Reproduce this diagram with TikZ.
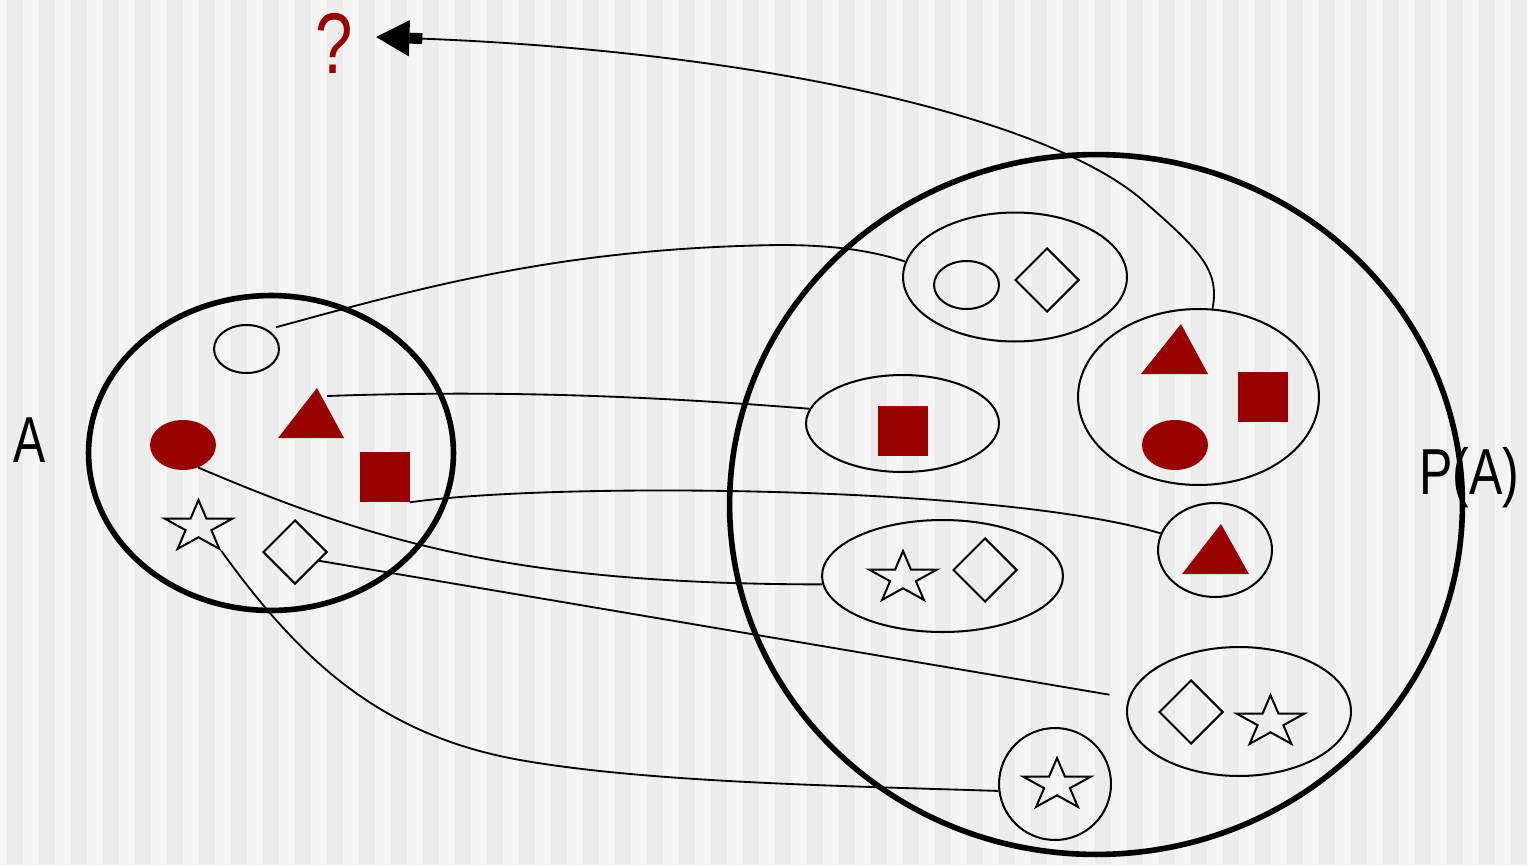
\documentclass[tikz,border=0pt]{standalone}
\usepackage{fontspec}
\setmainfont{Liberation Sans}
\usepackage{graphicx}
\usetikzlibrary{shapes.geometric,arrows.meta}

\definecolor{darkred}{RGB}{153,0,0}
\definecolor{stripelight}{RGB}{244,244,244}
\definecolor{stripedark}{RGB}{236,236,236}

\begin{document}
\begin{tikzpicture}[x=0.02cm,y=-0.02cm,
  bigset/.style={ellipse, draw, line width=3.2pt, inner sep=0pt},
  subset/.style={ellipse, draw, line width=1.15pt, inner sep=0pt},
  ring/.style={ellipse, draw, line width=1.15pt, inner sep=0pt, minimum width=1.3cm, minimum height=0.96cm},
  blob/.style={ellipse, fill=darkred, inner sep=0pt, minimum width=1.32cm, minimum height=1cm},
  redbox/.style={rectangle, fill=darkred, inner sep=0pt, minimum size=1cm},
  gem/.style={diamond, draw, line width=1.15pt, inner sep=0pt, minimum size=1.28cm},
  starel/.style={star, star points=5, star point ratio=2.618, draw, line width=1.15pt, inner sep=0pt, minimum size=1.42cm, yscale=0.76},
  link/.style={line width=1.05pt},
  lbl/.style={inner sep=0pt, anchor=base}]

\useasboundingbox (0,0) rectangle (1527,865);

% striped background
\fill[stripelight] (0,0) rectangle (1527,865);
\foreach \k in {0,...,47}
  \fill[stripedark] (7+32*\k,0) rectangle (23+32*\k,865);

% the set A
\node[bigset, minimum width=7.3cm, minimum height=6.3cm] (A) at (271,453) {};
\node[ring] (oA) at (246.5,349) {};
\node[blob] (rA) at (183,445) {};
\node[redbox] (sqA) at (384.5,477) {};
\node[gem] (dA) at (295,552) {};
\node[starel] (stA) at (198.5,527) {};
\coordinate (tA) at (317,388);
\fill[darkred] (tA) -- ++(27,50) -- ++(-66,0) -- cycle;

% the power set P(A)
\node[bigset, minimum width=14.66cm, minimum height=14cm] (PA) at (1096,504.5) {};

\node[subset, minimum width=4.48cm, minimum height=2.58cm] (s1) at (1015,277) {};
\node[ring] (o1) at (966.5,285) {};
\node[gem] (d1) at (1047,280) {};

\node[subset, minimum width=4.82cm, minimum height=3.52cm] (s2) at (1198.5,397) {};
\coordinate (t2) at (1181,324);
\fill[darkred] (t2) -- ++(27,50) -- ++(-67,0) -- cycle;
\node[redbox] (sq2) at (1263,397) {};
\node[blob] (r2) at (1175,445) {};

\node[subset, minimum width=3.86cm, minimum height=1.94cm] (s3) at (902.5,423.5) {};
\node[redbox] (sq3) at (903,431) {};

\node[subset, minimum width=2.28cm, minimum height=1.88cm] (s4) at (1215,550) {};
\coordinate (t4) at (1221,524);
\fill[darkred] (t4) -- ++(28,50) -- ++(-67,0) -- cycle;

\node[subset, minimum width=4.82cm, minimum height=2.24cm] (s5) at (942.5,576) {};
\node[starel] (st5) at (903,578) {};
\node[gem] (d5) at (985,570) {};

\node[subset, minimum width=4.48cm, minimum height=2.58cm] (s6) at (1239,711.5) {};
\node[gem] (d6) at (1191,712) {};
\node[starel] (st6) at (1270.5,722) {};

\node[subset, circle, minimum size=2.24cm] (s7) at (1055,784) {};
\node[starel] (st7) at (1057,785) {};

% labels
\node[lbl, font=\fontsize{37}{40}\selectfont] (lA) at (29.5,462) {\scalebox{0.74}[1]{A}};
\node[lbl, font=\fontsize{37}{40}\selectfont] (lPA) at (1469.5,494) {\scalebox{0.77}[1]{P(A)}};
\node[lbl, font=\fontsize{49}{52}\selectfont, text=darkred] (q) at (334,73) {\scalebox{0.78}[1]{?}};
\coordinate (qtip) at (376,37);

% element to subset links
\draw[link] ([shift={(6,-4)}]oA.37) .. controls (420,288) and (560,248) .. (780,245)
  .. controls (830,245) and (870,250) .. (s1.172);
\draw[link] ([shift={(10,8)}]tA) .. controls (500,390) and (650,396) .. (s3.171);
\draw[link] (sqA.south east) .. controls (550,482) and (1000,485) .. (s4.163);
\draw[link] (rA.-56) .. controls (380,545) and (520,584) .. (s5.184);
\draw[link, shorten >=11pt] (dA.-20) -- (s6.173);
\draw[link] (stA.outer point 4) .. controls (300,660) and (380,735) .. (520,760)
  .. controls (650,783) and (850,786) .. (s7.187);

% the question arrow
\draw[link, -{Rectangle[length=7.4pt,width=6.2pt] Triangle[length=19pt,width=20.4pt]}]
  (s2.81) .. controls (1220,270) and (1200,250) .. (1140,198)
  .. controls (1040,115) and (750,50) .. (qtip);

\end{tikzpicture}
\end{document}
